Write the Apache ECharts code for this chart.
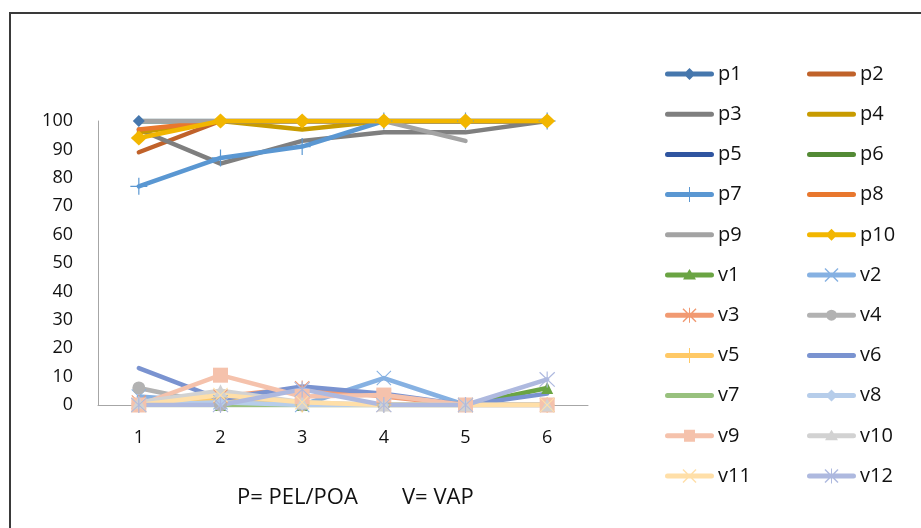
<!DOCTYPE html>
<html>
<head>
<meta charset="utf-8">
<script src="https://cdn.jsdelivr.net/npm/echarts@6/dist/echarts.min.js"></script>
<style>html,body{margin:0;padding:0;background:#fff}#c{width:921px;height:528px}</style>
</head>
<body>
<div id="c"></div>
<script>
// ---- data ----
const categories = ['1', '2', '3', '4', '5', '6'];
const p1 = [100, 100, 100, 100, 100, 100];
const p2 = [89, 100, 100, 100, 100, 100];
const p3 = [97, 85, 93, 96, 96, 100];
const p4 = [96, 100, 97, 100, 100, 100];
const p5 = [100, 100, 100, 100, 100, 100];
const p6 = [100, 100, 100, 100, 100, 100];
const p7 = [77, 87, 91, 100, 100, 100];
const p8 = [97, 100, 100, 100, 100, 100];
const p9 = [100, 100, 100, 100, 93, null];
const p10 = [94, 100, 100, 100, 100, 100];
const v1 = [0, 0, 0, 0, 0, 6];
const v2 = [3, 1, 0, 9.5, 0, 0];
const v3 = [1, 3, 6, 3, 0, 0];
const v4 = [6, 0, 0, 0, 0, 0];
const v5 = [0, 2.5, 0, 0, 0, 0];
const v6 = [13, 2, 6.5, 4, 0, 4];
const v7 = [0, 0, 0, 0, 0, 0];
const v8 = [0, 1, 0, 0, 0, 0];
const v9 = [0, 10.5, 3, 3.5, 0, 0];
const v10 = [1, 5, 1, 0, 0, 0];
const v11 = [0, 3.5, 1, 0, 0, 0];
const v12 = [0, 0, 5.5, 0, 0, 9];
const captionParts = ['P= PEL/POA', 'V= VAP'];

// ---- styles ----
const FONT = 'Open Sans';
const SYM = {
  plus: 'path://M9.3,0H10.7V20H9.3ZM0,9.3H20V10.7H0Z',
  cross: 'path://M1,0L20,19L19,20L0,1ZM19,0L20,1L1,20L0,19Z',
  star: 'path://M9.3,0H10.7V20H9.3ZM1.5,0.5L19.5,18.5L18.5,19.5L0.5,1.5ZM18.5,0.5L19.5,1.5L1.5,19.5L0.5,18.5Z'
};
// legend icon pieces in a 49x16 box
const L_BAR = 'M2.5,5.5H46.5A2.5,2.5 0 0 1 46.5,10.5H2.5A2.5,2.5 0 0 1 2.5,5.5Z';
const L_BOX = 'M0,0h0.01v0.01zM49,16h-0.01v-0.01z';
const L_MARK = {
  none: '',
  diamond: 'M24.5,2L30.5,8L24.5,14L18.5,8Z',
  plus: 'M24,0.5H25V15.5H24Z',
  triangle: 'M24.5,2L31,12.5L18,12.5Z',
  cross: 'M18.5,1L31.5,14L30.5,15L17.5,2ZM30.5,1L31.5,2L18.5,15L17.5,14Z',
  star: 'M24,0.5H25V15.5H24ZM18.5,1L31.5,14L30.5,15L17.5,2ZM30.5,1L31.5,2L18.5,15L17.5,14Z',
  circle: 'M19,8A5.5,5.5 0 1 1 30,8A5.5,5.5 0 1 1 19,8Z',
  rect: 'M19,2H30V14H19Z'
};

const seriesDefs = [
  {name: 'p1', data: p1, color: '#4677AD', mark: 'diamond', size: 12},
  {name: 'p2', data: p2, color: '#C0622A', mark: 'none'},
  {name: 'p3', data: p3, color: '#7F7F7F', mark: 'none'},
  {name: 'p4', data: p4, color: '#C89B00', mark: 'none'},
  {name: 'p5', data: p5, color: '#2F55A0', mark: 'none'},
  {name: 'p6', data: p6, color: '#538A35', mark: 'none'},
  {name: 'p7', data: p7, color: '#5A97D2', mark: 'plus', size: 17},
  {name: 'p8', data: p8, color: '#E8772E', mark: 'none'},
  {name: 'p9', data: p9, color: '#A3A3A3', mark: 'none'},
  {name: 'p10', data: p10, color: '#F2B600', mark: 'diamond', size: [16, 15]},
  {name: 'v1', data: v1, color: '#6AA443', mark: 'triangle', size: 12},
  {name: 'v2', data: v2, color: '#86B1E2', mark: 'cross', size: 15},
  {name: 'v3', data: v3, color: '#F19A72', mark: 'star', size: 15},
  {name: 'v4', data: v4, color: '#B2B2B2', mark: 'circle', size: 13},
  {name: 'v5', data: v5, color: '#FFC966', mark: 'plus', size: 15},
  {name: 'v6', data: v6, color: '#7A93D0', mark: 'none'},
  {name: 'v7', data: v7, color: '#98C17E', mark: 'none'},
  {name: 'v8', data: v8, color: '#B6CDEA', mark: 'diamond', size: 11},
  {name: 'v9', data: v9, color: '#F5C2AC', mark: 'rect', size: 15},
  {name: 'v10', data: v10, color: '#D2D2D2', mark: 'triangle', size: 13},
  {name: 'v11', data: v11, color: '#FFDFA8', mark: 'cross', size: 15},
  {name: 'v12', data: v12, color: '#AEB9DF', mark: 'star', size: 16}
];

function chartSymbol(m) {
  if (m === 'none') return 'none';
  if (SYM[m]) return SYM[m];
  return m;
}

const series = seriesDefs.map(d => ({
  name: d.name,
  type: 'line',
  data: d.data,
  symbol: chartSymbol(d.mark),
  symbolSize: d.size || 10,
  showSymbol: d.mark !== 'none',
  connectNulls: false,
  color: d.color,
  itemStyle: {color: d.color, borderWidth: 0},
  lineStyle: {color: d.color, width: 4.5, cap: 'round', join: 'round'},
  emphasis: {disabled: true}
}));

function legendItem(d) {
  return {name: d.name, icon: 'path://' + L_BAR + (L_MARK[d.mark] || '') + L_BOX};
}
const col1 = seriesDefs.filter((d, i) => i % 2 === 0).map(legendItem);
const col2 = seriesDefs.filter((d, i) => i % 2 === 1).map(legendItem);

const legendBase = {
  orient: 'vertical',
  top: 64,
  itemWidth: 49,
  itemHeight: 16,
  itemGap: 20.2,
  padding: 0,
  selectedMode: false,
  textStyle: {fontFamily: FONT, fontSize: 20, color: '#111', padding: [0, 0, 0, -1]}
};

const chart = echarts.init(document.getElementById('c'), null, {renderer: 'canvas'});
chart.setOption({
  animation: false,
  backgroundColor: '#fff',
  textStyle: {fontFamily: FONT},
  graphic: [
    {type: 'rect', shape: {x: 10, y: 13, width: 940, height: 540}, style: {fill: 'none', stroke: '#3a3a3a', lineWidth: 2}, silent: true},
    {type: 'text', x: 237, y: 498, style: {text: captionParts[0], font: '22px "Open Sans"', fill: '#111', textVerticalAlign: 'middle'}, silent: true},
    {type: 'text', x: 402, y: 498, style: {text: captionParts[1], font: '22px "Open Sans"', fill: '#111', textVerticalAlign: 'middle'}, silent: true}
  ],
  legend: [
    Object.assign({}, legendBase, {left: 665, data: col1}),
    Object.assign({}, legendBase, {left: 807, data: col2})
  ],
  grid: {left: 98, right: 333, top: 121, bottom: 123, containLabel: false},
  xAxis: {
    type: 'category',
    data: categories,
    boundaryGap: true,
    axisLine: {show: true, lineStyle: {color: '#A6A6A6', width: 1}},
    axisTick: {show: false},
    axisLabel: {fontFamily: FONT, fontSize: 18, color: '#111', margin: 24},
    splitLine: {show: false}
  },
  yAxis: {
    type: 'value',
    min: 0,
    max: 100,
    interval: 10,
    axisLine: {show: true, lineStyle: {color: '#A6A6A6', width: 1}},
    axisTick: {show: false},
    axisLabel: {fontFamily: FONT, fontSize: 18, color: '#111', margin: 25},
    splitLine: {show: false}
  },
  series: series
});
</script>
</body>
</html>
